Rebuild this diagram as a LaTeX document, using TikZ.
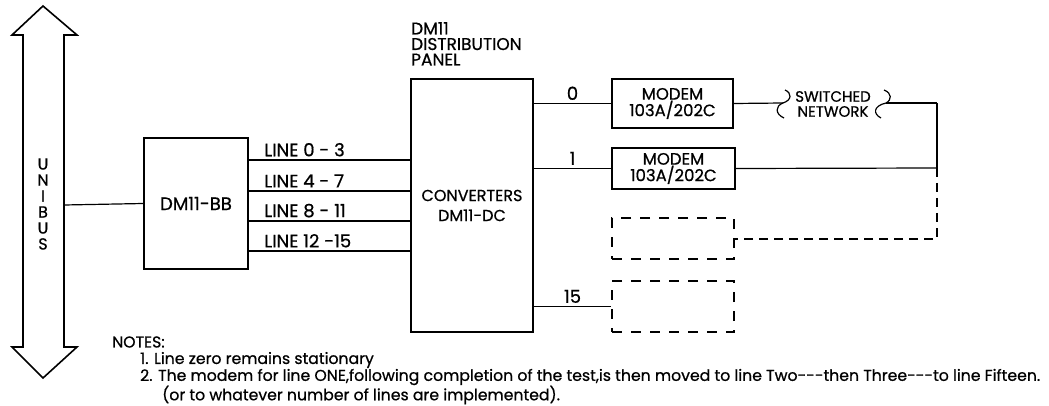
\documentclass[tikz,border=0pt]{standalone}
\usepackage{fontspec}
\setmainfont{Poppins}[FakeBold=0.7]
\usetikzlibrary{positioning}

\newcommand{\fs}[2]{\fontsize{#1}{#2}\selectfont}

\begin{document}
\begin{tikzpicture}[x=1pt,y=-1pt,font=\fs{17}{19},
  box/.style={draw,line width=1.6pt,inner sep=0pt,align=center},
  ghost/.style={draw,line width=1.6pt,dash pattern=on 10pt off 9pt},
  wire/.style={line width=1.2pt},
  tag/.style={inner sep=3pt}]
  \useasboundingbox (0,0) rectangle (1049,406);

  % unibus
  \draw[line width=1.6pt] (43,6) -- (77,35) -- (64,35) -- (64,347) -- (77,347)
    -- (43,378) -- (12,347) -- (23,347) -- (23,35) -- (12,35) -- cycle;
  \coordinate (bus) at (64,205);
  \node[align=center,font=\fs{16}{16}] (unibus) at (43,204) {U\\N\\I\\B\\U\\S};

  \node[box,minimum width=104,minimum height=131,font=\fs{18}{20}] (bb) at (196,203.5) {DM11-BB};
  \node[box,minimum width=122,minimum height=253,font=\fs{16}{20}] (conv) at (472,205.5) {CONVERTERS\\DM11-DC};
  \node[align=left,anchor=north west,inner sep=0pt,font=\fs{17}{15.5}] (panel) at (411,22) {DM11\\DISTRIBUTION\\PANEL};

  \node[box,minimum width=121,minimum height=49,font=\fs{16.5}{16.5}] (modem0) at (672.5,103.5) {MODEM\\103A/202C};
  \node[box,minimum width=123,minimum height=41,font=\fs{16.5}{16.5}] (modem1) at (673.5,168.5) {MODEM\\103A/202C};
  \node[ghost,minimum width=122,minimum height=41] (spare) at (673,238.5) {};
  \node[ghost,minimum width=122,minimum height=51] (last) at (673,306.5) {};

  \node[align=center,inner sep=0pt,font=\fs{15}{15}] (net) at (833,104) {SWITCHED\\NETWORK};
  \coordinate (netin) at (783,103);
  \coordinate (netout) at (886,103);
  \coordinate (top) at (937,103);
  \coordinate (join) at (937,168);
  \coordinate (drop) at (937,239);

  \path[wire,every node/.append style={font=\fs{18}{20}}]
    (bus) edge (bb.west)
    (bb.east |- 0,160) edge node[tag,above right,pos=0,xshift=12] {LINE 0 - 3} (conv.west |- 0,160)
    (bb.east |- 0,191) edge node[tag,above right,pos=0,xshift=12] {LINE 4 - 7} (conv.west |- 0,191)
    (bb.east |- 0,221) edge node[tag,above right,pos=0,xshift=12] {LINE 8 - 11} (conv.west |- 0,221)
    (bb.east |- 0,251) edge node[tag,above right,pos=0,xshift=12] {LINE 12 -15} (conv.west |- 0,251)
    (conv.east |- modem0) edge node[tag,above] {0} (modem0.west)
    (conv.east |- modem1) edge node[tag,above] {1} (modem1.west)
    (conv.east |- last) edge node[tag,above] {15} (last.west)
    (modem0.east) edge (netin)
    (netout) edge (top)
    (top) edge (join)
    (modem1.east) edge (join);
  \draw[wire,dash pattern=on 9pt off 6pt] (join) -- (drop) -- (spare.east |- drop);

  % braces round the network
  \draw[wire] (785,90) .. controls (792,93) and (792,100) .. (netin)
    .. controls (775,106) and (775,114) .. (784,118);
  \draw[wire] (884,90) .. controls (892,93) and (892,100) .. (netout)
    .. controls (873,106) and (873,114) .. (881,118);

  % notes
  \begin{scope}[every node/.style={anchor=west,inner sep=0pt,font=\fs{15.7}{18}}]
  \node (notes) at (112,342) {NOTES:};
  \node (note1) at (140,360) {1. Line zero remains stationary};
  \node (note2) at (140,377) {2. The modem for line ONE,following completion of the test,is then moved to line Two{-}{-}{-}then Three{-}{-}{-}to line Fifteen.};
  \node (note3) at (162,395) {(or to whatever number of lines are implemented).};
  \end{scope}
\end{tikzpicture}
\end{document}
